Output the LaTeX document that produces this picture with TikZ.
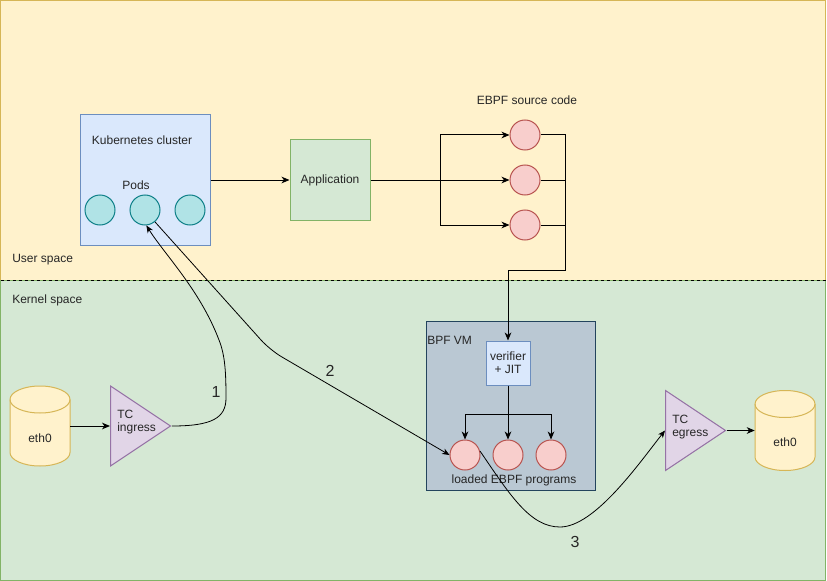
\documentclass[tikz,border=0pt]{standalone}
\usepackage{fontspec}
\setmainfont{Liberation Sans}
\usetikzlibrary{shapes.geometric,arrows.meta}

\definecolor{userfill}{HTML}{FFF2CC}
\definecolor{userline}{HTML}{D6B656}
\definecolor{kernfill}{HTML}{D5E8D4}
\definecolor{kernline}{HTML}{82B366}
\definecolor{bluefill}{HTML}{DAE8FC}
\definecolor{blueline}{HTML}{6C8EBF}
\definecolor{podfill}{HTML}{B0E3E6}
\definecolor{podline}{HTML}{0E8088}
\definecolor{progfill}{HTML}{F8CECC}
\definecolor{progline}{HTML}{B85450}
\definecolor{vmfill}{HTML}{BAC8D3}
\definecolor{vmline}{HTML}{23445D}
\definecolor{tcfill}{HTML}{E1D5E7}
\definecolor{tcline}{HTML}{9673A6}

% disk: name, x, y (centre)
\newcommand{\ethdisk}[3]{%
  \node[minimum width=45pt, minimum height=60pt, inner sep=0pt] (#1) at (#2,#3) {};
  \draw[draw=userline, fill=userfill, line width=0.75pt]
    ($(#2,#3)+(-30,-26.5)$) -- ++(0,53) arc(180:0:30 and 13.5) -- ++(0,-53) arc(0:-180:30 and 13.5) -- cycle;
  \draw[draw=userline, line width=0.75pt] ($(#2,#3)+(-30,-26.5)$) arc(180:0:30 and 13.5);
}

\usetikzlibrary{calc}

\begin{document}
\begin{tikzpicture}[x=0.75pt,y=-0.75pt,
    font=\fontsize{9}{10.5}\selectfont, text=black!85,
    lbl/.style={inner sep=0pt},
    num/.style={inner sep=0pt, font=\fontsize{12}{14}\selectfont},
    pod/.style={circle, draw=podline, fill=podfill, line width=0.75pt, minimum size=22.5pt, inner sep=0pt},
    prog/.style={circle, draw=progline, fill=progfill, line width=0.75pt, minimum size=22.5pt, inner sep=0pt},
    tc/.style={isosceles triangle, isosceles triangle stretches, shape border rotate=0,
        draw=tcline, fill=tcfill, line width=0.75pt, minimum width=60pt, minimum height=45pt, inner sep=0pt},
    arr/.style={line width=0.75pt, -{Stealth[length=6pt,width=5pt,inset=1.8pt]}},
    link/.style={line width=0.75pt},
    curve/.style={line width=0.6pt, -{Stealth[length=5.5pt,width=4.5pt,inset=1.6pt]}}]

    \useasboundingbox (0,0) rectangle (827,581);

    % user space and kernel space
    \draw[fill=userfill, draw=userline, line width=0.75pt] (0.5,0.5) rectangle (825.5,280);
    \draw[fill=kernfill, draw=kernline, line width=0.75pt] (0.5,280) rectangle (825.5,580.5);
    \draw[line width=0.75pt, dash pattern=on 2.25pt off 2.25pt] (0.5,280) -- (825.5,280);
    \node[lbl, anchor=west] (user) at (12,260) {User space};
    \node[lbl, anchor=west] (kern) at (12,300) {Kernel space};

    % kubernetes cluster
    \node[draw=blueline, fill=bluefill, line width=0.75pt, minimum size=97.5pt] (k8s) at (145,180) {};
    \node[lbl] (k8stitle) at (142,140) {Kubernetes cluster};
    \node[lbl] (pods) at (136,185) {Pods};
    \node[pod] (pod1) at (100,210) {};
    \node[pod] (pod2) at (145,210) {};
    \node[pod] (pod3) at (190,210) {};

    \node[draw=kernline, fill=kernfill, line width=0.75pt, minimum size=60pt] (app) at (330,180) {Application};
    \draw[arr] (k8s.east |- app.west) -- (app.west);

    % ebpf source code
    \node[lbl] (srctitle) at (527,100) {EBPF source code};
    \node[prog] (src1) at (525,135) {};
    \node[prog] (src2) at (525,180) {};
    \node[prog] (src3) at (525,225) {};
    \coordinate (split) at (440,180);
    \coordinate (merge) at (565,270);
    \draw[link] (app.east) -- (split);
    \draw[arr] (split) |- (src1.west);
    \draw[arr] (split) -- (src2.west);
    \draw[arr] (split) |- (src3.west);

    % bpf vm
    \node[draw=vmline, fill=vmfill, line width=0.75pt, minimum size=126.75pt] (vm) at (510.5,405.5) {};
    \node[lbl, anchor=west] (vmtitle) at (427,340) {BPF VM};
    \node[draw=blueline, fill=bluefill, line width=0.75pt, minimum size=33pt, inner sep=0pt, align=center] (verifier) at (508,363) {verifier\\[-1pt]+ JIT};
    \draw[link] (src1.east) -| (merge);
    \draw[link] (src2.east) -| (merge);
    \draw[arr] (src3.east) -| (merge) -| (verifier.north);

    \node[prog] (prog1) at (465,455) {};
    \node[prog] (prog2) at (508,455) {};
    \node[prog] (prog3) at (551,455) {};
    \node[lbl] (progtitle) at (514,480) {loaded EBPF programs};
    \coordinate (fork) at (508,414);
    \draw[link] (verifier.south) -- (fork);
    \draw[arr] (fork) -| (prog1.north);
    \draw[arr] (fork) -- (prog2.north);
    \draw[arr] (fork) -| (prog3.north);

    % ingress side
    \ethdisk{ethin}{40}{426}
    \node[lbl] (ethintext) at (40,438) {eth0};
    \node[tc, anchor=lower side] (tcin) at (110,426) {};
    \node[lbl, anchor=west, align=left] (tcintext) at (117,422) {TC\\[-1pt]ingress};
    \draw[arr] (ethin.east |- tcin.lower side) -- (tcin.lower side);

    % egress side
    \node[tc, anchor=lower side] (tcout) at (665,430.5) {};
    \node[lbl, anchor=west, align=left] (tcouttext) at (672,427) {TC\\[-1pt]egress};
    \ethdisk{ethout}{785}{430.5}
    \node[lbl] (ethouttext) at (785,442) {eth0};
    \draw[arr] (tcout.apex) -- (ethout.west |- tcout.apex);

    % packet paths
    \draw[curve] (tcin.apex) .. controls (212,426) and (226,418) .. (226,398)
        .. controls (226,372) and (225,355) .. (219,340)
        .. controls (200,290) and (165,255) .. (pod2.-85);
    \node[num] (one) at (216,392) {1};
    \draw[curve, rounded corners=10pt] (pod2.-50) -- (270,350) -- (prog1.west);
    \node[num] (two) at (330,371) {2};
    \draw[curve] (prog1.15) .. controls (510,495) and (530,527) .. (560,527)
        .. controls (595,527) and (640,462) .. (tcout.lower side);
    \node[num] (three) at (575,542) {3};

\end{tikzpicture}
\end{document}
